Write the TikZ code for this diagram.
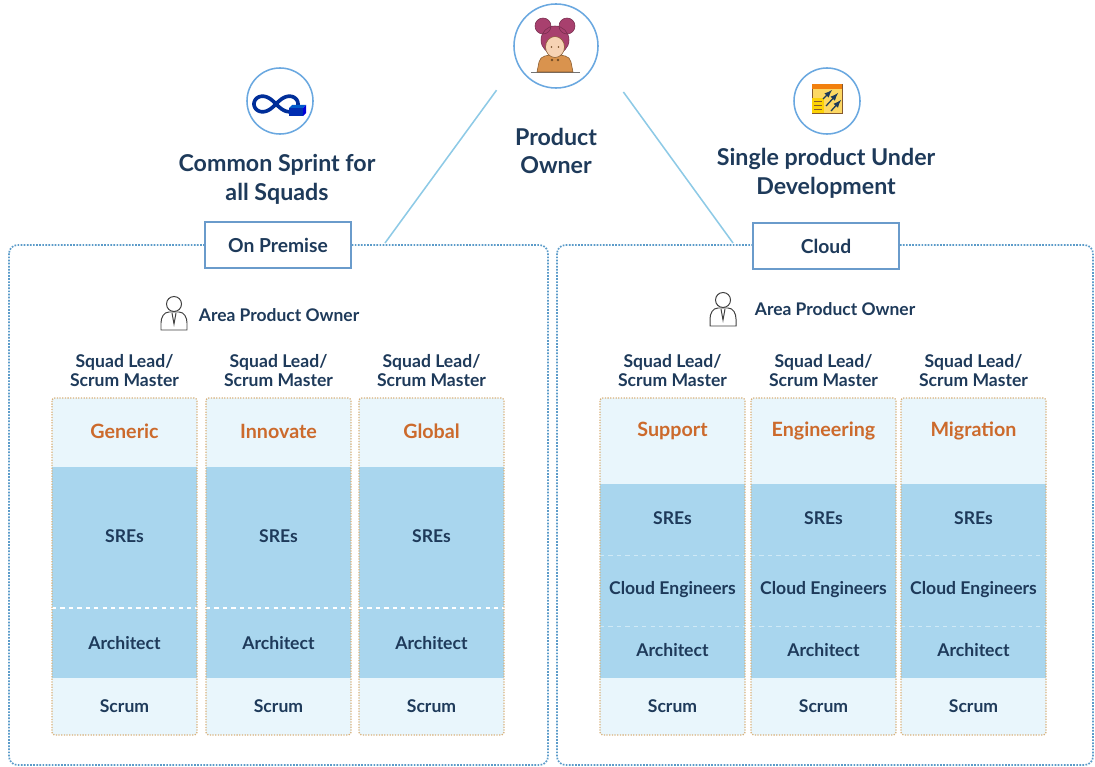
\documentclass[tikz,border=0pt]{standalone}
\usepackage{fontspec}
\setmainfont{Lato}
\usepackage{xcolor}
\usetikzlibrary{calc, positioning}

\definecolor{navy}{HTML}{1E3A5A}
\definecolor{rust}{HTML}{CC6A2C}
\definecolor{paleblue}{HTML}{E9F6FC}
\definecolor{skyblue}{HTML}{A9D6EE}
\definecolor{tan}{HTML}{D8B07A}
\definecolor{dotblue}{HTML}{5B9BC9}
\definecolor{linkblue}{HTML}{8ECAE6}
\definecolor{ringblue}{HTML}{6AA8E0}
\definecolor{boxblue}{HTML}{6A9BCB}
\definecolor{hair}{HTML}{A8406E}
\definecolor{skin}{HTML}{F6D2B4}
\definecolor{shirt}{HTML}{D9934E}

\begin{document}
\begin{tikzpicture}[x=0.025cm, y=-0.025cm,
    title/.style={align=center, text=navy, font=\bfseries\fontsize{16.5}{20.5}\selectfont},
    lead/.style={align=center, text=navy, font=\bfseries\fontsize{12.5}{13.5}\selectfont},
    squad/.style={text=rust, font=\bfseries\fontsize{14}{16}\selectfont},
    cell/.style={text=navy, font=\bfseries\fontsize{12.5}{14}\selectfont},
    area/.style={anchor=west, text=navy, font=\bfseries\fontsize{12.4}{14}\selectfont},
    zone/.style={draw=boxblue, line width=0.9pt, fill=white, minimum width=3.65cm,
        minimum height=1.15cm, text=navy, font=\bfseries\fontsize{13.7}{15}\selectfont},
    ring/.style={circle, draw=ringblue, line width=1.1pt, fill=white, minimum size=#1},
    outerbox/.style={draw=dotblue, line width=1.2pt, densely dotted, rounded corners=6pt},
    squadbox/.style={draw=tan, line width=0.9pt, densely dotted, rounded corners=2pt},
    poline/.style={draw=linkblue, line width=1.1pt},
    person/.style={draw=black!75, line width=0.7pt, fill=white}]

    \useasboundingbox (0,0) rectangle (1095,767);

    % 1. Hai khung lớn chấm chấm
    \draw[outerbox] (9,245) rectangle (548,765);
    \draw[outerbox] (557,245) rectangle (1093,765);

    % 2. Product Owner và hai đường nối
    \node[ring=2.1cm] (po) at (556,46) {};
    \coordinate (poL) at (385,243);
    \coordinate (poR) at (733,243);
    \draw[poline, shorten <=0.85cm] (po.203) -- (poL);
    \draw[poline, shorten <=1.1cm] (po.346) -- (poR);

    % hình cô gái
    \fill[black!55] (531,72) rectangle (580,73.5);
    \filldraw[fill=shirt, draw=brown!70!black, line width=0.4pt]
        (537,72) -- (539,62) to[out=80, in=180] (555,55) to[out=0, in=100] (571,62) -- (573,72) -- cycle;
    \filldraw[fill=hair, draw=hair!70!black, line width=0.4pt]
        (543,26) circle (8) (567,26) circle (8) (555,40) circle (14);
    \filldraw[fill=skin, draw=brown!70!black, line width=0.4pt]
        (555,47) ellipse (9.5 and 10.5);
    \fill[hair] (545,45) to[out=85, in=180] (555,36) to[out=0, in=95] (565,45) -- (566,35) -- (544,35) -- cycle;
    \fill[brown!60!black] (551.5,47) circle (0.9) (558.5,47) circle (0.9);
    \fill[brown!60!black] (552,60) circle (1.3) (558,60) circle (1.3);

    \node[title] (poText) at (556,151) {Product\\Owner};

    % 3. Biểu tượng vô cực: Common Sprint
    \node[ring=1.65cm] (sprintIcon) at (280,101) {};
    \draw[blue!70!cyan!60!black, line width=2.6pt, line join=round]
        plot[domain=0:360, samples=90, smooth] ({276+22*cos(\x)/(1+sin(\x)^2)}, {104+22*sin(\x)*cos(\x)/(1+sin(\x)^2)});
    \fill[blue!75!cyan!70!black] (289,108) rectangle (303,116);
    \fill[blue!55!cyan!80!black] (289,108) -- (292,105) -- (306,105) -- (303,108) -- cycle;
    \fill[blue!85!black] (303,108) -- (306,105) -- (306,113) -- (303,116) -- cycle;
    \node[title] (sprintText) at (277,179) {Common Sprint for\\all Squads};

    % 4. Biểu tượng bảng: Single product
    \node[ring=1.65cm] (prodIcon) at (827,101) {};
    \filldraw[fill=yellow!55!orange!60, draw=brown!70!black, line width=0.4pt] (812,84) rectangle (842,113);
    \fill[orange!80!brown] (812,84) rectangle (842,89);
    \fill[yellow!70!orange] (812,98) rectangle (824,113);
    \draw[brown!70!black, line width=0.4pt] (814,101) -- (822,101) (814,105) -- (822,105) (814,109) -- (822,109);
    \draw[navy, line width=0.9pt, -latex] (826,106) -- (838,93);
    \draw[navy, line width=0.9pt, -latex] (831,111) -- (841,100);
    \draw[navy, line width=0.9pt, -latex] (823,99) -- (832,90);
    \node[title] (prodText) at (826,173) {Single product Under\\Development};

    % 5. Nhãn On Premise / Cloud
    \node[zone] (onprem) at (278,245) {On Premise};
    \node[zone] (cloud) at (826,246) {Cloud};

    % 6. Area Product Owner
    \foreach \px/\py/\side in {174/304/L, 723/300/R} {
        \draw[person] (\px-13,\py+26) -- (\px-13,\py+19) to[out=90, in=180] (\px-5,\py+8)
            -- (\px+5,\py+8) to[out=0, in=90] (\px+13,\py+19) -- (\px+13,\py+26) -- cycle;
        \draw[person] (\px-2,\py+9) -- (\px,\py+20) -- (\px+2,\py+9);
        \draw[person] (\px,\py) circle (7.5);
    }
    \node[area] (apoL) at (194,315) {Area Product Owner};
    \node[area] (apoR) at (750,309) {Area Product Owner};

    % 7. Các squad bên On Premise
    \foreach \xl/\nm [count=\i] in {52/Generic, 206/Innovate, 359/Global} {
        \fill[paleblue, rounded corners=2pt] (\xl,398) rectangle ++(145,337);
        \fill[skyblue] (\xl,467) rectangle ++(145,211);
        \draw[white, line width=1.2pt, dashed] (\xl,608) -- ++(145,0);
        \draw[squadbox] (\xl,398) rectangle ++(145,337);
        \node[lead] (leadL\i) at (\xl+72.5,371) {Squad Lead/\\Scrum Master};
        \node[squad] (squadL\i) at (\xl+72.5,431) {\nm};
        \node[cell] (sreL\i) at (\xl+72.5,536) {SREs};
        \node[cell] (archL\i) at (\xl+72.5,643) {Architect};
        \node[cell] (scrumL\i) at (\xl+72.5,706) {Scrum};
    }

    % 8. Các squad bên Cloud
    \foreach \xl/\nm [count=\i] in {600/Support, 751/Engineering, 901/Migration} {
        \fill[paleblue, rounded corners=2pt] (\xl,398) rectangle ++(145,337);
        \fill[skyblue] (\xl,484) rectangle ++(145,194);
        \draw[paleblue!60!skyblue, line width=0.6pt, dashed] (\xl,555) -- ++(145,0) (\xl,626) -- ++(145,0);
        \draw[squadbox] (\xl,398) rectangle ++(145,337);
        \node[lead] (leadR\i) at (\xl+72.5,371) {Squad Lead/\\Scrum Master};
        \node[squad] (squadR\i) at (\xl+72.5,431) {\nm};
        \node[cell] (sreR\i) at (\xl+72.5,518) {SREs};
        \node[cell] (cloudR\i) at (\xl+72.5,590) {Cloud Engineers};
        \node[cell] (archR\i) at (\xl+72.5,650) {Architect};
        \node[cell] (scrumR\i) at (\xl+72.5,706) {Scrum};
    }
\end{tikzpicture}
\end{document}
